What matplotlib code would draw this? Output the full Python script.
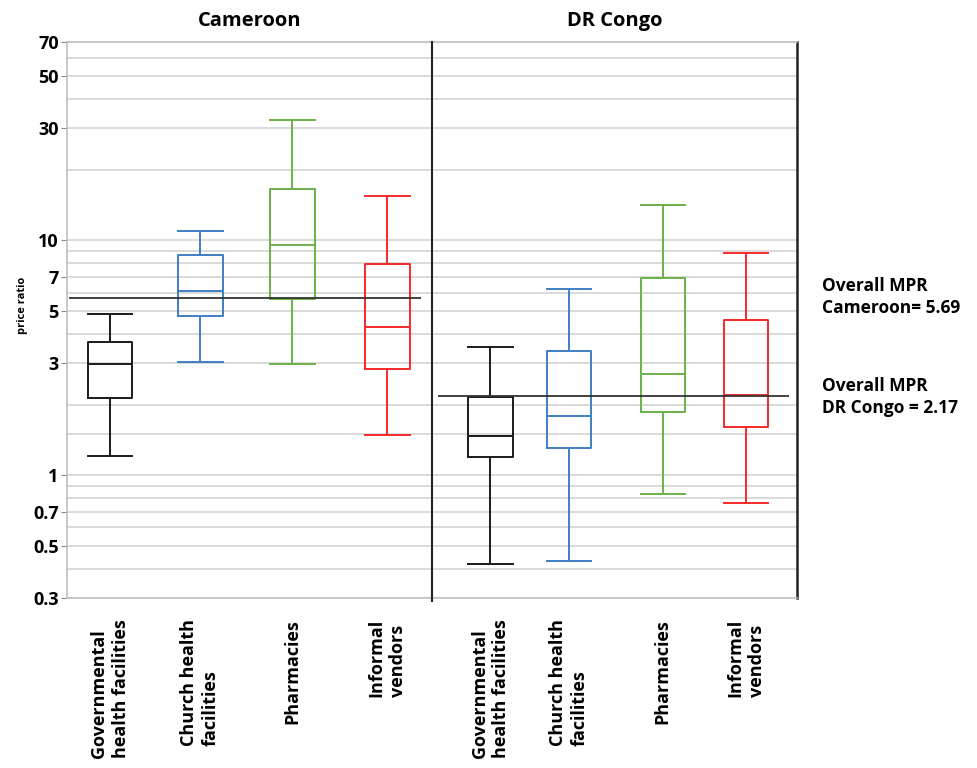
import matplotlib.pyplot as plt
import numpy as np

plt.rcParams['font.family'] = ['Open Sans', 'DejaVu Sans']

# box statistics (price ratio, log scale)
categories = ['Governmental\nhealth facilities', 'Church health\nfacilities',
              'Pharmacies', 'Informal\nvendors']
countries = ['Cameroon', 'DR Congo']

cam_low = [1.21, 3.03, 2.97, 1.49]
cam_q1 = [2.13, 4.78, 5.63, 2.84]
cam_med = [2.97, 6.09, 9.59, 4.28]
cam_q3 = [3.71, 8.63, 16.6, 7.90]
cam_high = [4.88, 11.0, 32.6, 15.5]

drc_low = [0.42, 0.433, 0.83, 0.76]
drc_q1 = [1.19, 1.31, 1.85, 1.60]
drc_med = [1.47, 1.78, 2.69, 2.20]
drc_q3 = [2.15, 3.38, 6.94, 4.57]
drc_high = [3.51, 6.23, 14.1, 8.86]

overall_mpr = [5.69, 2.17]

ytick_vals = [0.3, 0.5, 0.7, 1, 3, 5, 7, 10, 30, 50, 70]
ytick_labels = ['0.3', '0.5', '0.7', '1', '3', '5', '7', '10', '30', '50', '70']
grid_vals = [0.3, 0.4, 0.5, 0.6, 0.7, 0.8, 0.9, 1, 1.5, 2, 3, 4, 5, 6, 7, 8, 9,
             10, 20, 30, 40, 50, 60, 70]

colors = ['#1a1a1a', '#3f7fc4', '#6db04a', '#f52a2a']

fig = plt.figure(figsize=(9.78, 7.68), dpi=100)
ax = fig.add_axes([67 / 978, 1 - 598 / 768, 730 / 978, 556 / 768])
ax.set_yscale('log')
ax.set_ylim(0.3, 70)
ax.set_xlim(0, 8)

for g in grid_vals:
    ax.axhline(g, color='#d4d4d4', lw=1.2, zorder=0)

pos_cam = [0.47, 1.46, 2.47, 3.51]
pos_drc = [4.64, 5.50, 6.53, 7.44]

def make_stats(low, q1, med, q3, high):
    return [dict(whislo=a, q1=b, med=c, q3=d, whishi=e, fliers=[])
            for a, b, c, d, e in zip(low, q1, med, q3, high)]

stats_cam = make_stats(cam_low, cam_q1, cam_med, cam_q3, cam_high)
stats_drc = make_stats(drc_low, drc_q1, drc_med, drc_q3, drc_high)

for stats, positions in [(stats_cam, pos_cam), (stats_drc, pos_drc)]:
    for st, p, c in zip(stats, positions, colors):
        ax.bxp([st], positions=[p], widths=0.49, showfliers=False,
               boxprops=dict(color=c, lw=1.4),
               whiskerprops=dict(color=c, lw=1.4),
               capprops=dict(color=c, lw=1.4),
               medianprops=dict(color=c, lw=1.4),
               capwidths=0.49, manage_ticks=False)

# overall MPR reference lines
ax.hlines(overall_mpr[0], 0.02, 3.88, color='#333333', lw=1.3, zorder=3)
ax.hlines(overall_mpr[1], 4.07, 7.91, color='#333333', lw=1.3, zorder=3)

# panel divider
ax.plot([4, 4], [0.29, 70], color='#222222', lw=1.5, clip_on=False, zorder=4)

for side in ['left', 'top', 'bottom']:
    ax.spines[side].set_color('#c0c0c0')
    ax.spines[side].set_linewidth(1.2)
ax.spines['right'].set_color('#222222')
ax.spines['right'].set_linewidth(1.8)

ax.set_yticks(ytick_vals)
ax.set_yticklabels(ytick_labels, fontsize=13, fontweight='bold')
ax.yaxis.set_minor_locator(plt.NullLocator())
ax.tick_params(axis='y', length=4, color='#888888', pad=2)

ax.set_xticks(pos_cam + pos_drc)
ax.set_xticklabels(categories * 2, rotation=90, fontsize=13, fontweight='bold',
                   va='top', ha='center', multialignment='left', linespacing=1.25)
ax.tick_params(axis='x', length=0, pad=15)

for i, name in enumerate(countries):
    ax.text(2 + 4 * i, 1.037, name, transform=ax.get_xaxis_transform(),
            ha='center', va='center', fontsize=14.5, fontweight='bold')

fig.text(22 / 978, 1 - 305 / 768, 'price ratio', rotation=90, fontsize=8,
         fontweight='bold', ha='center', va='center')

fig.text(822 / 978, 1 - 297 / 768, 'Overall MPR\nCameroon= %.2f' % overall_mpr[0],
         fontsize=12.5, fontweight='bold', ha='left', va='center', linespacing=1.3)
fig.text(822 / 978, 1 - 397 / 768, 'Overall MPR\nDR Congo = %.2f' % overall_mpr[1],
         fontsize=12.5, fontweight='bold', ha='left', va='center', linespacing=1.3)

plt.savefig('out.png', dpi=100)
